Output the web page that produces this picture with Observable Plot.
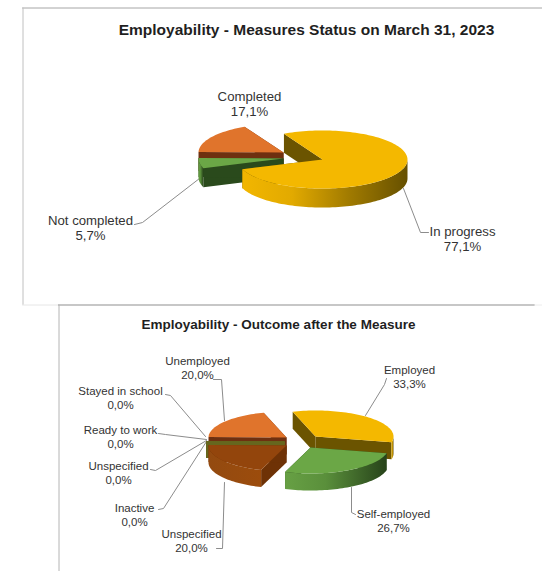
<!DOCTYPE html>
<html>
<head>
<meta charset="utf-8">
<script src="https://cdn.jsdelivr.net/npm/d3@7"></script>
<script src="https://cdn.jsdelivr.net/npm/@observablehq/plot@0.6"></script>
<style>
  html, body { margin: 0; padding: 0; background: #fff; }
  svg { display: block; }
</style>
</head>
<body>
<div id="chart"></div>
<script>
// Measures status
const statusTitle = "Employability - Measures Status on March 31, 2023";
const statusNames = ["In progress", "Not completed", "Completed"];
const statusShares = [77.1, 5.7, 17.1];

// Outcome after the measure
const outcomeTitle = "Employability - Outcome after the Measure";
const outcomeNames = ["Employed", "Self-employed", "Unspecified", "Inactive", "Unspecified", "Ready to work", "Stayed in school", "Unemployed"];
const outcomeShares = [33.3, 26.7, 20.0, 0, 0, 0, 0, 20.0];

// Slice palettes: top surface, cut face, rim gradient
const yellow = {top: "#f4b800", face: "#6b5400", rim: "url(#rimYellow)"};
const green = {top: "#6ba746", face: "#2a4a1c", rim: "url(#rimGreen)"};
const orange = {top: "#e0742c", face: "#6e3010", rim: "#6e3010"};
const brown = {top: "#93450c", face: "#6e3206", rim: "url(#rimBrown)"};
const olive = {top: "#66661e", face: "#66661e", rim: "#66661e"};

// Pie layouts: start angle in degrees clockwise from north, ellipse radii, rim depth,
// plus the exploded centre of each slice and the painting order.
const statusPie = {
  start: 333, rx: 85, ry: 29, depth: 19, order: [2, 1, 0],
  palette: [yellow, green, orange],
  centers: [[322, 159], [283, 158], [283, 152]]
};
const outcomePie = {
  start: 343, rx: 78, ry: 26, depth: 17, order: [7, 6, 5, 4, 3, 2, 0, 1],
  palette: [yellow, green, brown, olive, olive, olive, olive, orange],
  centers: [[315, 436], [310, 447], [286, 445], [284, 441], [284, 441], [284, 441], [284, 441], [286, 437]]
};

// Label blocks and their elbowed leaders, in the order of the arrays above
const statusLabels = [
  {at: [462, 238], size: 13.2, leader: [[428, 232], [420, 232], [403, 188]]},
  {at: [90, 227], size: 13.2, leader: [[134, 224], [142, 222], [199, 178]]},
  {at: [249, 103], size: 13.2, leader: null}
];
const outcomeLabels = [
  {at: [409, 376], size: 11.5, leader: [[386, 378], [384, 384], [365, 415]]},
  {at: [393, 520], size: 11.5, leader: [[355, 514], [351, 512], [351, 487]]},
  {at: [191, 540], size: 11.5, leader: [[216, 548], [222, 548], [224, 482]]},
  {at: [134, 514], size: 11.5, leader: [[158, 509], [163, 508], [206, 441]]},
  {at: [118, 472], size: 11.5, leader: [[150, 469], [155, 470], [206, 440]]},
  {at: [120, 436], size: 11.5, leader: [[158, 433], [165, 434], [206, 439]]},
  {at: [120, 397], size: 11.5, leader: [[165, 394], [170, 395], [205, 436]]},
  {at: [197, 367], size: 11.5, leader: [[213, 379], [221, 379], [224, 420]]}
];

// Panel outlines of the two charts
const frameLines = [
  {stroke: "#a6a6a6", path: [[22, 7.5], [542, 7.5]]},
  {stroke: "#c0c0c0", path: [[22.5, 7.5], [22.5, 304]]},
  {stroke: "#e6e6e6", path: [[22, 304.5], [58, 304.5]]},
  {stroke: "#8f8f8f", path: [[58, 304.5], [534, 304.5]]},
  {stroke: "#ececec", path: [[534, 304.5], [542, 304.5]]},
  {stroke: "#b4b4b4", path: [[58.5, 304.5], [58.5, 571]]}
];

const toPoint = ([cx, cy], rx, ry, deg, drop = 0) => {
  const a = deg * Math.PI / 180;
  return [cx + rx * Math.sin(a), cy - ry * Math.cos(a) + drop];
};
const arc = (c, rx, ry, from, to, drop = 0) => {
  const n = Math.max(1, Math.ceil((to - from) / 2));
  return d3.range(n + 1).map(i => toPoint(c, rx, ry, from + (to - from) * i / n, drop));
};

// Turns shares into the extruded polygons of one pie, painted back to front
function pieMarks(shares, pie) {
  let running = pie.start;
  const spans = shares.map(v => {
    const span = [running, running + v * 3.6];
    running = span[1];
    return span;
  });
  const marks = [];
  const polygon = (pts, fill) => marks.push(Plot.line(pts, {x: d => d[0], y: d => d[1], fill, stroke: "none"}));
  for (const i of pie.order) {
    const [a0, a1] = spans[i];
    const c = pie.centers[i];
    const colors = pie.palette[i];
    const {rx, ry, depth} = pie;
    // Both cut faces
    for (const a of [a0, a1]) {
      const p = toPoint(c, rx, ry, a);
      polygon([c, p, [p[0], p[1] + depth], [c[0], c[1] + depth]], colors.face);
    }
    // Outer rim: only the near half of the ellipse shows
    for (const shift of [0, 360]) {
      const from = Math.max(a0, 90 + shift), to = Math.min(a1, 270 + shift);
      if (to > from) {
        polygon([...arc(c, rx, ry, from, to), ...arc(c, rx, ry, from, to, depth).reverse()], colors.rim);
      }
    }
    if (a1 > a0) polygon([c, ...arc(c, rx, ry, a0, a1)], colors.top);
  }
  return marks;
}

const percent = v => v.toFixed(1).replace(".", ",") + "%";

function labelMarks(names, shares, layout) {
  const rows = names.map((name, i) => ({
    text: `${name}\n${percent(shares[i])}`, x: layout[i].at[0], y: layout[i].at[1], size: layout[i].size
  }));
  const marks = layout.filter(d => d.leader).map(d =>
    Plot.line(d.leader, {x: p => p[0], y: p => p[1], stroke: "#8c8c8c", strokeWidth: 1})
  );
  marks.push(Plot.text(rows, {
    x: "x", y: "y", text: "text", fontSize: rows[0].size, fill: "#333333",
    fontFamily: "Liberation Sans", lineHeight: 1.2, stroke: "none"
  }));
  return marks;
}

const gradient = (id, stops) =>
  `<linearGradient id="${id}" x1="0" x2="1" y1="0" y2="0">` +
  stops.map(([o, c]) => `<stop offset="${o}" stop-color="${c}"/>`).join("") +
  `</linearGradient>`;

const defs = () => {
  const g = document.createElementNS("http://www.w3.org/2000/svg", "defs");
  g.innerHTML =
    gradient("rimYellow", [[0, "#f2b600"], [0.3, "#e2aa00"], [0.65, "#a07a00"], [1, "#665000"]]) +
    gradient("rimGreen", [[0, "#67a044"], [0.4, "#5a8f3b"], [1, "#27431a"]]) +
    gradient("rimBrown", [[0, "#934a10"], [1, "#9c4c0c"]]);
  return g;
};

const chart = Plot.plot({
  width: 542,
  height: 571,
  margin: 0,
  x: {domain: [0, 542], range: [0, 542], axis: null},
  y: {domain: [0, 571], range: [0, 571], axis: null},
  style: {background: "#fff"},
  marks: [
    defs,
    ...frameLines.map(l => Plot.line(l.path, {x: p => p[0], y: p => p[1], stroke: l.stroke, strokeWidth: 1})),
    ...labelMarks(statusNames, statusShares, statusLabels),
    ...labelMarks(outcomeNames, outcomeShares, outcomeLabels),
    ...pieMarks(statusShares, statusPie),
    ...pieMarks(outcomeShares, outcomePie),
    Plot.text([statusTitle], {
      x: [306], y: [30], text: d => d, fontSize: 15.5, fontWeight: "bold",
      fontFamily: "Liberation Sans", fill: "#1f1f1f"
    }),
    Plot.text([outcomeTitle], {
      x: [278], y: [324], text: d => d, fontSize: 13.5, fontWeight: "bold",
      fontFamily: "Liberation Sans", fill: "#1f1f1f"
    })
  ]
});
document.getElementById("chart").append(chart);
</script>
</body>
</html>
